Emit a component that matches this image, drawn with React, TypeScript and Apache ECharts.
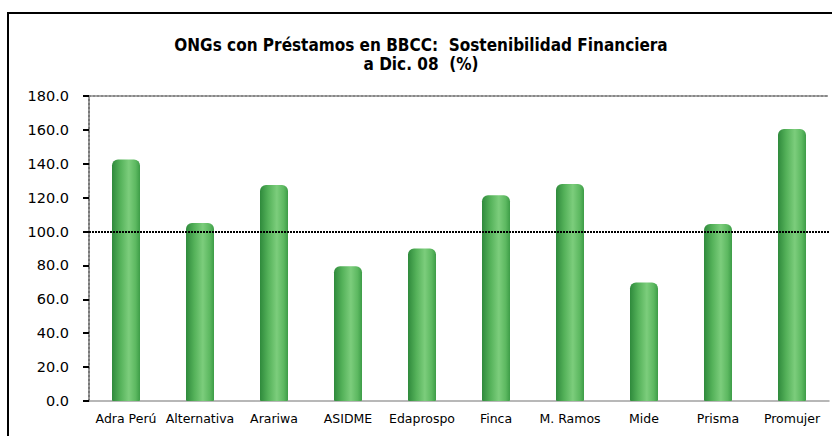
import React, { useEffect, useRef } from "react";
import * as echarts from "echarts";

const titleLines = ["ONGs con Préstamos en BBCC:  Sostenibilidad Financiera", "a Dic. 08  (%)"];
const categories = ["Adra Perú", "Alternativa", "Arariwa", "ASIDME", "Edaprospo", "Finca", "M. Ramos", "Mide", "Prisma", "Promujer"];
const values = [142.5, 105, 127.5, 79.5, 90, 121.5, 128, 70, 104.5, 160.5];
const referenceValue = 100;
const yMin = 0;
const yMax = 180;
const yInterval = 20;

const FONT = "DejaVu Sans";
const TITLE_FONT = "'DejaVu Sans Condensed', 'DejaVu Sans'";

export default function App() {
  const ref = useRef<HTMLDivElement>(null);
  useEffect(() => {
    if (!ref.current) return;
    const chart = echarts.init(ref.current, undefined, { renderer: "svg" });
    const barGradient = new echarts.graphic.LinearGradient(0, 0, 1, 0, [
      { offset: 0, color: "#2f8a3c" },
      { offset: 0.3, color: "#55b25a" },
      { offset: 0.6, color: "#7ccd7c" },
      { offset: 0.85, color: "#5cb860" },
      { offset: 1, color: "#3d9c47" },
    ]);
    chart.setOption({
      animation: false,
      backgroundColor: "#ffffff",
      textStyle: { fontFamily: FONT },
      title: {
        text: titleLines.join("\n"),
        left: 416,
        textAlign: "center",
        top: 30,
        textStyle: { fontFamily: TITLE_FONT, fontSize: 17, fontWeight: "bold", color: "#000", lineHeight: 19.5 },
      },
      graphic: [
        {
          type: "rect",
          shape: { x: 8, y: 13, width: 900, height: 500 },
          style: { fill: "none", stroke: "#000", lineWidth: 2 },
          silent: true,
        },
      ],
      grid: { left: 89, right: 3, top: 96, bottom: 35 },
      xAxis: [
        {
          type: "category",
          data: categories,
          axisLine: { show: true, lineStyle: { color: "#a0a0a0", width: 1.5 } },
          axisTick: { show: false },
          axisLabel: { color: "#000", fontSize: 12.5, fontFamily: FONT, margin: 11, interval: 0 },
        },
        {
          type: "category",
          data: categories,
          position: "top",
          axisLine: { show: true, lineStyle: { color: "#888", width: 2, type: "dotted" } },
          axisTick: { show: false },
          axisLabel: { show: false },
        },
      ],
      yAxis: {
        type: "value",
        min: yMin,
        max: yMax,
        interval: yInterval,
        axisLine: { show: true, lineStyle: { color: "#777", width: 2, type: "dotted" } },
        axisTick: { show: true, length: 6, lineStyle: { color: "#000", width: 2 } },
        axisLabel: {
          color: "#000",
          fontSize: 14.5,
          fontFamily: FONT,
          margin: 20,
          formatter: (v: number) => v.toFixed(1),
        },
        splitLine: { show: false },
      },
      series: [
        {
          type: "bar",
          data: values,
          barWidth: 28,
          itemStyle: { color: barGradient, borderRadius: [6, 6, 1, 1] },
          markLine: {
            silent: true,
            symbol: ["none", "none"],
            label: { show: false },
            lineStyle: { color: "#000", width: 2, type: [2, 1] },
            data: [{ yAxis: referenceValue }],
          },
        },
      ],
    });
    return () => chart.dispose();
  }, []);
  return (
    <div
      ref={ref}
      style={{ position: "fixed", left: 0, top: 0, width: 832, height: 436 }}
    />
  );
}
